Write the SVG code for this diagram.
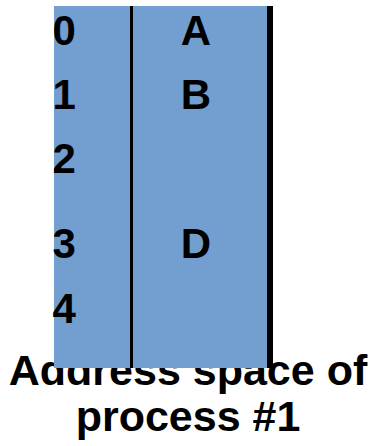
<svg xmlns="http://www.w3.org/2000/svg" width="373" height="446" viewBox="0 0 373 446">
<style>
.t{font-family:"Liberation Sans",Arial,sans-serif;font-weight:bold;font-size:42px;fill:#000}
.c{font-size:43px}
.m{text-anchor:middle}
</style>
<rect width="373" height="446" fill="#fff"/>
<g id="caption">
<text class="t c m" x="188" y="385">Address space of</text>
<text class="t c m" x="188" y="430.5">process #1</text>
</g>
<g id="memory">
<rect x="54" y="6" width="214" height="362" fill="#729fcf"/>
<rect x="267" y="6" width="6" height="362" fill="#000"/>
<rect x="130" y="6" width="3" height="362" fill="#000"/>
</g>
<g id="addresses">
<text class="t" x="52.5" y="45">0</text>
<text class="t" x="52.5" y="109">1</text>
<text class="t" x="52.5" y="173">2</text>
<text class="t" x="52.5" y="258">3</text>
<text class="t" x="52.5" y="323">4</text>
</g>
<g id="contents">
<text class="t m" x="196" y="45">A</text>
<text class="t m" x="196" y="109">B</text>
<text class="t m" x="196" y="258">D</text>
</g>
</svg>
